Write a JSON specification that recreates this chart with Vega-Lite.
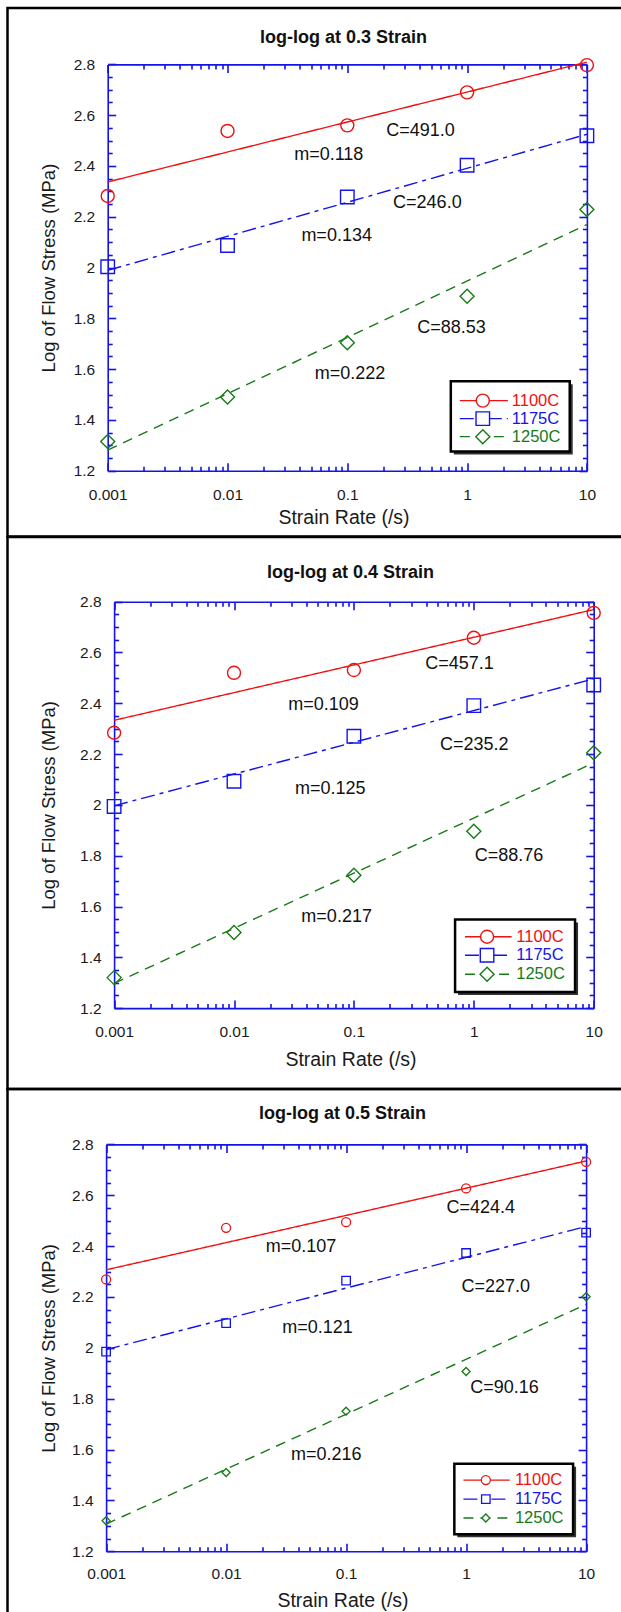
{
  "$schema": "https://vega.github.io/schema/vega-lite/v6.json",
  "background": "white",
  "padding": {"left": 5.5, "top": 6, "right": 0, "bottom": 0},
  "spacing": 0,
  "bounds": "flush",
  "config": {
    "view": {"stroke": "#000000", "strokeWidth": 2.5},
    "font": "Liberation Sans",
    "axis": {
      "domainColor": "#1414e8", "tickColor": "#1414e8", "domainWidth": 1.6, "tickWidth": 1.6,
      "grid": false, "labelFont": "Liberation Sans", "labelFontSize": 15.5, "labelColor": "#1a1a1a",
      "titleFont": "Liberation Sans", "titleFontWeight": "normal", "titleColor": "#1a1a1a",
      "labelFlush": false, "labelOverlap": false, "labelBound": false
    },
    "title": {"font": "Liberation Sans", "fontSize": 18, "fontWeight": "bold", "color": "#111111", "anchor": "middle", "frame": "group", "baseline": "middle"}
  },
  "datasets": {
    "obs": [
      {"strain": "0.3", "temp": "1100C", "rate": 0.001, "logs": 2.282},
      {"strain": "0.3", "temp": "1100C", "rate": 0.01, "logs": 2.538},
      {"strain": "0.3", "temp": "1100C", "rate": 0.1, "logs": 2.560},
      {"strain": "0.3", "temp": "1100C", "rate": 1, "logs": 2.690},
      {"strain": "0.3", "temp": "1100C", "rate": 10, "logs": 2.797},
      {"strain": "0.3", "temp": "1175C", "rate": 0.001, "logs": 2.003},
      {"strain": "0.3", "temp": "1175C", "rate": 0.01, "logs": 2.087},
      {"strain": "0.3", "temp": "1175C", "rate": 0.1, "logs": 2.278},
      {"strain": "0.3", "temp": "1175C", "rate": 1, "logs": 2.403},
      {"strain": "0.3", "temp": "1175C", "rate": 10, "logs": 2.519},
      {"strain": "0.3", "temp": "1250C", "rate": 0.001, "logs": 1.315},
      {"strain": "0.3", "temp": "1250C", "rate": 0.01, "logs": 1.490},
      {"strain": "0.3", "temp": "1250C", "rate": 0.1, "logs": 1.704},
      {"strain": "0.3", "temp": "1250C", "rate": 1, "logs": 1.887},
      {"strain": "0.3", "temp": "1250C", "rate": 10, "logs": 2.229},
      {"strain": "0.4", "temp": "1100C", "rate": 0.001, "logs": 2.284},
      {"strain": "0.4", "temp": "1100C", "rate": 0.01, "logs": 2.520},
      {"strain": "0.4", "temp": "1100C", "rate": 0.1, "logs": 2.531},
      {"strain": "0.4", "temp": "1100C", "rate": 1, "logs": 2.658},
      {"strain": "0.4", "temp": "1100C", "rate": 10, "logs": 2.756},
      {"strain": "0.4", "temp": "1175C", "rate": 0.001, "logs": 1.994},
      {"strain": "0.4", "temp": "1175C", "rate": 0.01, "logs": 2.093},
      {"strain": "0.4", "temp": "1175C", "rate": 0.1, "logs": 2.270},
      {"strain": "0.4", "temp": "1175C", "rate": 1, "logs": 2.391},
      {"strain": "0.4", "temp": "1175C", "rate": 10, "logs": 2.472},
      {"strain": "0.4", "temp": "1250C", "rate": 0.001, "logs": 1.320},
      {"strain": "0.4", "temp": "1250C", "rate": 0.01, "logs": 1.498},
      {"strain": "0.4", "temp": "1250C", "rate": 0.1, "logs": 1.723},
      {"strain": "0.4", "temp": "1250C", "rate": 1, "logs": 1.896},
      {"strain": "0.4", "temp": "1250C", "rate": 10, "logs": 2.205},
      {"strain": "0.5", "temp": "1100C", "rate": 0.001, "logs": 2.269},
      {"strain": "0.5", "temp": "1100C", "rate": 0.01, "logs": 2.472},
      {"strain": "0.5", "temp": "1100C", "rate": 0.1, "logs": 2.494},
      {"strain": "0.5", "temp": "1100C", "rate": 1, "logs": 2.627},
      {"strain": "0.5", "temp": "1100C", "rate": 10, "logs": 2.731},
      {"strain": "0.5", "temp": "1175C", "rate": 0.001, "logs": 1.985},
      {"strain": "0.5", "temp": "1175C", "rate": 0.01, "logs": 2.097},
      {"strain": "0.5", "temp": "1175C", "rate": 0.1, "logs": 2.264},
      {"strain": "0.5", "temp": "1175C", "rate": 1, "logs": 2.373},
      {"strain": "0.5", "temp": "1175C", "rate": 10, "logs": 2.453},
      {"strain": "0.5", "temp": "1250C", "rate": 0.001, "logs": 1.320},
      {"strain": "0.5", "temp": "1250C", "rate": 0.01, "logs": 1.510},
      {"strain": "0.5", "temp": "1250C", "rate": 0.1, "logs": 1.751},
      {"strain": "0.5", "temp": "1250C", "rate": 1, "logs": 1.907},
      {"strain": "0.5", "temp": "1250C", "rate": 10, "logs": 2.201}
    ],
    "fits": [
      {"strain": "0.3", "temp": "1100C", "rate": 0.001, "logs": 2.33708},
      {"strain": "0.3", "temp": "1100C", "rate": 10, "logs": 2.80908},
      {"strain": "0.3", "temp": "1175C", "rate": 0.001, "logs": 1.98894},
      {"strain": "0.3", "temp": "1175C", "rate": 10, "logs": 2.52494},
      {"strain": "0.3", "temp": "1250C", "rate": 0.001, "logs": 1.28109},
      {"strain": "0.3", "temp": "1250C", "rate": 10, "logs": 2.16909},
      {"strain": "0.4", "temp": "1100C", "rate": 0.001, "logs": 2.33301},
      {"strain": "0.4", "temp": "1100C", "rate": 10, "logs": 2.76901},
      {"strain": "0.4", "temp": "1175C", "rate": 0.001, "logs": 1.99644},
      {"strain": "0.4", "temp": "1175C", "rate": 10, "logs": 2.49644},
      {"strain": "0.4", "temp": "1250C", "rate": 0.001, "logs": 1.29722},
      {"strain": "0.4", "temp": "1250C", "rate": 10, "logs": 2.16522},
      {"strain": "0.5", "temp": "1100C", "rate": 0.001, "logs": 2.30678},
      {"strain": "0.5", "temp": "1100C", "rate": 10, "logs": 2.73478},
      {"strain": "0.5", "temp": "1175C", "rate": 0.001, "logs": 1.99303},
      {"strain": "0.5", "temp": "1175C", "rate": 10, "logs": 2.47703},
      {"strain": "0.5", "temp": "1250C", "rate": 0.001, "logs": 1.30701},
      {"strain": "0.5", "temp": "1250C", "rate": 10, "logs": 2.17101}
    ],
    "notes": [
      {"strain": "0.3", "label": "C=491.0", "rate": 0.409, "logs": 2.536},
      {"strain": "0.3", "label": "m=0.118", "rate": 0.070, "logs": 2.445},
      {"strain": "0.3", "label": "C=246.0", "rate": 0.466, "logs": 2.255},
      {"strain": "0.3", "label": "m=0.134", "rate": 0.0815, "logs": 2.125},
      {"strain": "0.3", "label": "C=88.53", "rate": 0.741, "logs": 1.760},
      {"strain": "0.3", "label": "m=0.222", "rate": 0.1054, "logs": 1.580},
      {"strain": "0.4", "label": "C=457.1", "rate": 0.759, "logs": 2.554},
      {"strain": "0.4", "label": "m=0.109", "rate": 0.0558, "logs": 2.395},
      {"strain": "0.4", "label": "C=235.2", "rate": 1.01, "logs": 2.236},
      {"strain": "0.4", "label": "m=0.125", "rate": 0.0635, "logs": 2.062},
      {"strain": "0.4", "label": "C=88.76", "rate": 1.963, "logs": 1.800},
      {"strain": "0.4", "label": "m=0.217", "rate": 0.0718, "logs": 1.559},
      {"strain": "0.5", "label": "C=424.4", "rate": 1.324, "logs": 2.550},
      {"strain": "0.5", "label": "m=0.107", "rate": 0.0421, "logs": 2.397},
      {"strain": "0.5", "label": "C=227.0", "rate": 1.768, "logs": 2.240},
      {"strain": "0.5", "label": "m=0.121", "rate": 0.0578, "logs": 2.077},
      {"strain": "0.5", "label": "C=90.16", "rate": 2.089, "logs": 1.841},
      {"strain": "0.5", "label": "m=0.216", "rate": 0.0684, "logs": 1.579}
    ],
    "keyBox": [
      {"strain": "0.3", "rate": 0.731, "rate2": 7.19, "logs": 1.552, "logs2": 1.276},
      {"strain": "0.4", "rate": 0.698, "rate2": 6.99, "logs": 1.549, "logs2": 1.263},
      {"strain": "0.5", "rate": 0.798, "rate2": 7.79, "logs": 1.544, "logs2": 1.267}
    ],
    "keyRows": [
      {"strain": "0.3", "temp": "1100C", "rate": 0.869, "rate2": 2.19, "sym": 1.352, "lab": 2.36, "logs": 1.476},
      {"strain": "0.3", "temp": "1175C", "rate": 0.869, "rate2": 2.19, "sym": 1.352, "lab": 2.36, "logs": 1.405},
      {"strain": "0.3", "temp": "1250C", "rate": 0.869, "rate2": 2.19, "sym": 1.352, "lab": 2.36, "logs": 1.334},
      {"strain": "0.4", "temp": "1100C", "rate": 0.845, "rate2": 2.07, "sym": 1.29, "lab": 2.26, "logs": 1.481},
      {"strain": "0.4", "temp": "1175C", "rate": 0.845, "rate2": 2.07, "sym": 1.29, "lab": 2.26, "logs": 1.408},
      {"strain": "0.4", "temp": "1250C", "rate": 0.845, "rate2": 2.07, "sym": 1.29, "lab": 2.26, "logs": 1.333},
      {"strain": "0.5", "temp": "1100C", "rate": 0.95, "rate2": 2.31, "sym": 1.46, "lab": 2.55, "logs": 1.480},
      {"strain": "0.5", "temp": "1175C", "rate": 0.95, "rate2": 2.31, "sym": 1.46, "lab": 2.55, "logs": 1.405},
      {"strain": "0.5", "temp": "1250C", "rate": 0.95, "rate2": 2.31, "sym": 1.46, "lab": 2.55, "logs": 1.331}
    ]
  },
  "resolve": {"scale": {"x": "independent", "y": "independent", "size": "independent"}},
  "vconcat": [
    {
      "width": 620, "height": 528.4,
      "title": {"text": "log-log at 0.3 Strain", "offset": -38.5, "dx": 26},
      "resolve": {"axis": {"x": "independent", "y": "independent"}},
      "layer": [
        {
          "data": {"name": "fits"}, "transform": [{"filter": "datum.strain == '0.3'"}],
          "mark": {"type": "line", "strokeWidth": 1.4},
          "encoding": {
            "x": {"field": "rate", "type": "quantitative", "scale": {"type": "log", "domain": [0.001, 10], "range": [100.2, 579.4]},
              "axis": {"orient": "bottom", "offset": -65.7, "values": [0.001, 0.01, 0.1, 1, 10], "format": "~g", "ticks": false, "domain": false, "labelBaseline": "middle", "labelPadding": 24, "title": "Strain Rate (/s)", "titleFontSize": 19.5, "titleX": 336, "titleY": 47, "titleBaseline": "middle", "titleAlign": "center"}},
            "y": {"field": "logs", "type": "quantitative", "scale": {"domain": [1.2, 2.8], "range": [462.7, 56.4], "zero": false, "nice": false},
              "axis": {"orient": "left", "offset": -100.2, "values": [1.2, 1.4, 1.6, 1.8, 2, 2.2, 2.4, 2.6, 2.8], "format": "~g", "ticks": false, "domain": false, "labelPadding": 13, "title": "Log of Flow Stress (MPa)", "titleFontSize": 18.5, "titleX": -59.4, "titleAngle": -90, "titleBaseline": "middle", "titleAlign": "center"}},
            "color": {"field": "temp", "type": "nominal", "scale": {"domain": ["1100C", "1175C", "1250C"], "range": ["#ee1111", "#1414e8", "#167a16"]}, "legend": null},
            "strokeDash": {"field": "temp", "type": "nominal", "scale": {"domain": ["1100C", "1175C", "1250C"], "range": [[1, 0], [14, 5, 4, 5], [10, 7]]}, "legend": null}
          }
        },
        {
          "data": {"name": "obs"}, "transform": [{"filter": "datum.strain == '0.3'"}],
          "mark": {"type": "point", "filled": false, "strokeWidth": 1.4, "opacity": 1},
          "encoding": {
            "x": {"field": "rate", "type": "quantitative", "scale": {"type": "log", "domain": [0.001, 10], "range": [100.2, 579.4]},
              "axis": {"orient": "bottom", "offset": -65.7, "values": [0.001, 0.01, 0.1, 1, 10], "labels": false, "ticks": true, "domain": true, "tickSize": -8, "title": null}},
            "y": {"field": "logs", "type": "quantitative", "scale": {"domain": [1.2, 2.8], "range": [462.7, 56.4], "zero": false, "nice": false},
              "axis": {"orient": "left", "offset": -100.2, "values": [1.2, 1.4, 1.6, 1.8, 2, 2.2, 2.4, 2.6, 2.8], "labels": false, "ticks": true, "domain": true, "tickSize": -8, "title": null}},
            "color": {"field": "temp", "type": "nominal", "scale": {"domain": ["1100C", "1175C", "1250C"], "range": ["#ee1111", "#1414e8", "#167a16"]}, "legend": null},
            "shape": {"field": "temp", "type": "nominal", "scale": {"domain": ["1100C", "1175C", "1250C"], "range": ["circle", "square", "diamond"]}, "legend": null},
            "size": {"field": "temp", "type": "ordinal", "scale": {"domain": ["1100C", "1175C", "1250C"], "range": [169, 196, 132]}, "legend": null}
          }
        },
        {
          "data": {"name": "notes"}, "transform": [{"filter": "datum.strain == '0.3'"}],
          "mark": {"type": "text", "fontSize": 18, "color": "#111111", "align": "center", "baseline": "middle"},
          "encoding": {
            "x": {"field": "rate", "type": "quantitative", "scale": {"type": "log", "domain": [0.001, 10], "range": [100.2, 579.4]},
              "axis": {"orient": "bottom", "offset": -65.7, "values": [0.002, 0.003, 0.004, 0.005, 0.006, 0.007, 0.008, 0.009, 0.02, 0.03, 0.04, 0.05, 0.06, 0.07, 0.08, 0.09, 0.2, 0.3, 0.4, 0.5, 0.6, 0.7, 0.8, 0.9, 2, 3, 4, 5, 6, 7, 8, 9], "labels": false, "ticks": true, "domain": false, "tickSize": -4.5, "title": null}},
            "y": {"field": "logs", "type": "quantitative", "scale": {"domain": [1.2, 2.8], "range": [462.7, 56.4], "zero": false, "nice": false},
              "axis": {"orient": "left", "offset": -100.2, "values": [1.25, 1.3, 1.35, 1.45, 1.5, 1.55, 1.65, 1.7, 1.75, 1.85, 1.9, 1.95, 2.05, 2.1, 2.15, 2.25, 2.3, 2.35, 2.45, 2.5, 2.55, 2.65, 2.7, 2.75], "labels": false, "ticks": true, "domain": false, "tickSize": -4.5, "title": null}},
            "text": {"field": "label", "type": "nominal"}
          }
        },
        {
          "data": {"name": "keyBox"}, "transform": [{"filter": "datum.strain == '0.3'"}],
          "mark": {"type": "rect", "fill": "#333333", "xOffset": 3, "x2Offset": 3, "yOffset": 3, "y2Offset": 3},
          "encoding": {
            "x": {"field": "rate", "type": "quantitative", "scale": {"type": "log", "domain": [0.001, 10], "range": [100.2, 579.4]},
              "axis": {"orient": "top", "offset": -56.4, "values": [0.001, 0.01, 0.1, 1, 10], "labels": false, "ticks": true, "domain": true, "tickSize": -8, "title": null}},
            "x2": {"field": "rate2"},
            "y": {"field": "logs", "type": "quantitative", "scale": {"domain": [1.2, 2.8], "range": [462.7, 56.4], "zero": false, "nice": false},
              "axis": {"orient": "right", "offset": -40.6, "values": [1.2, 1.4, 1.6, 1.8, 2, 2.2, 2.4, 2.6, 2.8], "labels": false, "ticks": true, "domain": true, "tickSize": -8, "title": null}},
            "y2": {"field": "logs2"}
          }
        },
        {
          "data": {"name": "keyBox"}, "transform": [{"filter": "datum.strain == '0.3'"}],
          "mark": {"type": "rect", "fill": "white", "stroke": "#000000", "strokeWidth": 2.5},
          "encoding": {
            "x": {"field": "rate", "type": "quantitative", "scale": {"type": "log", "domain": [0.001, 10], "range": [100.2, 579.4]},
              "axis": {"orient": "top", "offset": -56.4, "values": [0.002, 0.003, 0.004, 0.005, 0.006, 0.007, 0.008, 0.009, 0.02, 0.03, 0.04, 0.05, 0.06, 0.07, 0.08, 0.09, 0.2, 0.3, 0.4, 0.5, 0.6, 0.7, 0.8, 0.9, 2, 3, 4, 5, 6, 7, 8, 9], "labels": false, "ticks": true, "domain": false, "tickSize": -4.5, "title": null}},
            "x2": {"field": "rate2"},
            "y": {"field": "logs", "type": "quantitative", "scale": {"domain": [1.2, 2.8], "range": [462.7, 56.4], "zero": false, "nice": false},
              "axis": {"orient": "right", "offset": -40.6, "values": [1.25, 1.3, 1.35, 1.45, 1.5, 1.55, 1.65, 1.7, 1.75, 1.85, 1.9, 1.95, 2.05, 2.1, 2.15, 2.25, 2.3, 2.35, 2.45, 2.5, 2.55, 2.65, 2.7, 2.75], "labels": false, "ticks": true, "domain": false, "tickSize": -4.5, "title": null}},
            "y2": {"field": "logs2"}
          }
        },
        {
          "data": {"name": "keyRows"}, "transform": [{"filter": "datum.strain == '0.3'"}],
          "mark": {"type": "rule", "strokeWidth": 1.4},
          "encoding": {
            "x": {"field": "rate", "type": "quantitative", "scale": {"type": "log", "domain": [0.001, 10], "range": [100.2, 579.4]}, "axis": null},
            "x2": {"field": "rate2"},
            "y": {"field": "logs", "type": "quantitative", "scale": {"domain": [1.2, 2.8], "range": [462.7, 56.4], "zero": false, "nice": false}, "axis": null},
            "color": {"field": "temp", "type": "nominal", "scale": {"domain": ["1100C", "1175C", "1250C"], "range": ["#ee1111", "#1414e8", "#167a16"]}, "legend": null},
            "strokeDash": {"field": "temp", "type": "nominal", "scale": {"domain": ["1100C", "1175C", "1250C"], "range": [[1, 0], [14, 5, 4, 5], [10, 7]]}, "legend": null}
          }
        },
        {
          "data": {"name": "keyRows"}, "transform": [{"filter": "datum.strain == '0.3'"}],
          "mark": {"type": "point", "filled": false, "fill": "white", "fillOpacity": 1, "strokeWidth": 1.4, "opacity": 1},
          "encoding": {
            "x": {"field": "sym", "type": "quantitative", "scale": {"type": "log", "domain": [0.001, 10], "range": [100.2, 579.4]}, "axis": null},
            "y": {"field": "logs", "type": "quantitative", "scale": {"domain": [1.2, 2.8], "range": [462.7, 56.4], "zero": false, "nice": false}, "axis": null},
            "color": {"field": "temp", "type": "nominal", "scale": {"domain": ["1100C", "1175C", "1250C"], "range": ["#ee1111", "#1414e8", "#167a16"]}, "legend": null},
            "shape": {"field": "temp", "type": "nominal", "scale": {"domain": ["1100C", "1175C", "1250C"], "range": ["circle", "square", "diamond"]}, "legend": null},
            "size": {"field": "temp", "type": "ordinal", "scale": {"domain": ["1100C", "1175C", "1250C"], "range": [169, 196, 132]}, "legend": null}
          }
        },
        {
          "data": {"name": "keyRows"}, "transform": [{"filter": "datum.strain == '0.3'"}],
          "mark": {"type": "text", "fontSize": 16.5, "align": "left", "baseline": "middle"},
          "encoding": {
            "x": {"field": "lab", "type": "quantitative", "scale": {"type": "log", "domain": [0.001, 10], "range": [100.2, 579.4]}, "axis": null},
            "y": {"field": "logs", "type": "quantitative", "scale": {"domain": [1.2, 2.8], "range": [462.7, 56.4], "zero": false, "nice": false}, "axis": null},
            "text": {"field": "temp", "type": "nominal"},
            "color": {"field": "temp", "type": "nominal", "scale": {"domain": ["1100C", "1175C", "1250C"], "range": ["#ee1111", "#1414e8", "#167a16"]}, "legend": null}
          }
        }
      ]
    },
    {
      "width": 620, "height": 552,
      "title": {"text": "log-log at 0.4 Strain", "offset": -45, "dx": 33},
      "resolve": {"axis": {"x": "independent", "y": "independent"}},
      "layer": [
        {
          "data": {"name": "fits"}, "transform": [{"filter": "datum.strain == '0.4'"}],
          "mark": {"type": "line", "strokeWidth": 1.4},
          "encoding": {
            "x": {"field": "rate", "type": "quantitative", "scale": {"type": "log", "domain": [0.001, 10], "range": [106.6, 586.2]},
              "axis": {"orient": "bottom", "offset": -80.9, "values": [0.001, 0.01, 0.1, 1, 10], "format": "~g", "ticks": false, "domain": false, "labelBaseline": "middle", "labelPadding": 23, "title": "Strain Rate (/s)", "titleFontSize": 19.5, "titleX": 343, "titleY": 51.8, "titleBaseline": "middle", "titleAlign": "center"}},
            "y": {"field": "logs", "type": "quantitative", "scale": {"domain": [1.2, 2.8], "range": [471.1, 64.7], "zero": false, "nice": false},
              "axis": {"orient": "left", "offset": -106.6, "values": [1.2, 1.4, 1.6, 1.8, 2, 2.2, 2.4, 2.6, 2.8], "format": "~g", "ticks": false, "domain": false, "labelPadding": 13, "title": "Log of Flow Stress (MPa)", "titleFontSize": 18.5, "titleX": -65.8, "titleAngle": -90, "titleBaseline": "middle", "titleAlign": "center"}},
            "color": {"field": "temp", "type": "nominal", "scale": {"domain": ["1100C", "1175C", "1250C"], "range": ["#ee1111", "#1414e8", "#167a16"]}, "legend": null},
            "strokeDash": {"field": "temp", "type": "nominal", "scale": {"domain": ["1100C", "1175C", "1250C"], "range": [[1, 0], [14, 5, 4, 5], [10, 7]]}, "legend": null}
          }
        },
        {
          "data": {"name": "obs"}, "transform": [{"filter": "datum.strain == '0.4'"}],
          "mark": {"type": "point", "filled": false, "strokeWidth": 1.4, "opacity": 1},
          "encoding": {
            "x": {"field": "rate", "type": "quantitative", "scale": {"type": "log", "domain": [0.001, 10], "range": [106.6, 586.2]},
              "axis": {"orient": "bottom", "offset": -80.9, "values": [0.001, 0.01, 0.1, 1, 10], "labels": false, "ticks": true, "domain": true, "tickSize": -8, "title": null}},
            "y": {"field": "logs", "type": "quantitative", "scale": {"domain": [1.2, 2.8], "range": [471.1, 64.7], "zero": false, "nice": false},
              "axis": {"orient": "left", "offset": -106.6, "values": [1.2, 1.4, 1.6, 1.8, 2, 2.2, 2.4, 2.6, 2.8], "labels": false, "ticks": true, "domain": true, "tickSize": -8, "title": null}},
            "color": {"field": "temp", "type": "nominal", "scale": {"domain": ["1100C", "1175C", "1250C"], "range": ["#ee1111", "#1414e8", "#167a16"]}, "legend": null},
            "shape": {"field": "temp", "type": "nominal", "scale": {"domain": ["1100C", "1175C", "1250C"], "range": ["circle", "square", "diamond"]}, "legend": null},
            "size": {"field": "temp", "type": "ordinal", "scale": {"domain": ["1100C", "1175C", "1250C"], "range": [169, 196, 132]}, "legend": null}
          }
        },
        {
          "data": {"name": "notes"}, "transform": [{"filter": "datum.strain == '0.4'"}],
          "mark": {"type": "text", "fontSize": 18, "color": "#111111", "align": "center", "baseline": "middle"},
          "encoding": {
            "x": {"field": "rate", "type": "quantitative", "scale": {"type": "log", "domain": [0.001, 10], "range": [106.6, 586.2]},
              "axis": {"orient": "bottom", "offset": -80.9, "values": [0.002, 0.003, 0.004, 0.005, 0.006, 0.007, 0.008, 0.009, 0.02, 0.03, 0.04, 0.05, 0.06, 0.07, 0.08, 0.09, 0.2, 0.3, 0.4, 0.5, 0.6, 0.7, 0.8, 0.9, 2, 3, 4, 5, 6, 7, 8, 9], "labels": false, "ticks": true, "domain": false, "tickSize": -4.5, "title": null}},
            "y": {"field": "logs", "type": "quantitative", "scale": {"domain": [1.2, 2.8], "range": [471.1, 64.7], "zero": false, "nice": false},
              "axis": {"orient": "left", "offset": -106.6, "values": [1.25, 1.3, 1.35, 1.45, 1.5, 1.55, 1.65, 1.7, 1.75, 1.85, 1.9, 1.95, 2.05, 2.1, 2.15, 2.25, 2.3, 2.35, 2.45, 2.5, 2.55, 2.65, 2.7, 2.75], "labels": false, "ticks": true, "domain": false, "tickSize": -4.5, "title": null}},
            "text": {"field": "label", "type": "nominal"}
          }
        },
        {
          "data": {"name": "keyBox"}, "transform": [{"filter": "datum.strain == '0.4'"}],
          "mark": {"type": "rect", "fill": "#333333", "xOffset": 3, "x2Offset": 3, "yOffset": 3, "y2Offset": 3},
          "encoding": {
            "x": {"field": "rate", "type": "quantitative", "scale": {"type": "log", "domain": [0.001, 10], "range": [106.6, 586.2]},
              "axis": {"orient": "top", "offset": -64.7, "values": [0.001, 0.01, 0.1, 1, 10], "labels": false, "ticks": true, "domain": true, "tickSize": -8, "title": null}},
            "x2": {"field": "rate2"},
            "y": {"field": "logs", "type": "quantitative", "scale": {"domain": [1.2, 2.8], "range": [471.1, 64.7], "zero": false, "nice": false},
              "axis": {"orient": "right", "offset": -33.8, "values": [1.2, 1.4, 1.6, 1.8, 2, 2.2, 2.4, 2.6, 2.8], "labels": false, "ticks": true, "domain": true, "tickSize": -8, "title": null}},
            "y2": {"field": "logs2"}
          }
        },
        {
          "data": {"name": "keyBox"}, "transform": [{"filter": "datum.strain == '0.4'"}],
          "mark": {"type": "rect", "fill": "white", "stroke": "#000000", "strokeWidth": 2.5},
          "encoding": {
            "x": {"field": "rate", "type": "quantitative", "scale": {"type": "log", "domain": [0.001, 10], "range": [106.6, 586.2]},
              "axis": {"orient": "top", "offset": -64.7, "values": [0.002, 0.003, 0.004, 0.005, 0.006, 0.007, 0.008, 0.009, 0.02, 0.03, 0.04, 0.05, 0.06, 0.07, 0.08, 0.09, 0.2, 0.3, 0.4, 0.5, 0.6, 0.7, 0.8, 0.9, 2, 3, 4, 5, 6, 7, 8, 9], "labels": false, "ticks": true, "domain": false, "tickSize": -4.5, "title": null}},
            "x2": {"field": "rate2"},
            "y": {"field": "logs", "type": "quantitative", "scale": {"domain": [1.2, 2.8], "range": [471.1, 64.7], "zero": false, "nice": false},
              "axis": {"orient": "right", "offset": -33.8, "values": [1.25, 1.3, 1.35, 1.45, 1.5, 1.55, 1.65, 1.7, 1.75, 1.85, 1.9, 1.95, 2.05, 2.1, 2.15, 2.25, 2.3, 2.35, 2.45, 2.5, 2.55, 2.65, 2.7, 2.75], "labels": false, "ticks": true, "domain": false, "tickSize": -4.5, "title": null}},
            "y2": {"field": "logs2"}
          }
        },
        {
          "data": {"name": "keyRows"}, "transform": [{"filter": "datum.strain == '0.4'"}],
          "mark": {"type": "rule", "strokeWidth": 1.4},
          "encoding": {
            "x": {"field": "rate", "type": "quantitative", "scale": {"type": "log", "domain": [0.001, 10], "range": [106.6, 586.2]}, "axis": null},
            "x2": {"field": "rate2"},
            "y": {"field": "logs", "type": "quantitative", "scale": {"domain": [1.2, 2.8], "range": [471.1, 64.7], "zero": false, "nice": false}, "axis": null},
            "color": {"field": "temp", "type": "nominal", "scale": {"domain": ["1100C", "1175C", "1250C"], "range": ["#ee1111", "#1414e8", "#167a16"]}, "legend": null},
            "strokeDash": {"field": "temp", "type": "nominal", "scale": {"domain": ["1100C", "1175C", "1250C"], "range": [[1, 0], [14, 5, 4, 5], [10, 7]]}, "legend": null}
          }
        },
        {
          "data": {"name": "keyRows"}, "transform": [{"filter": "datum.strain == '0.4'"}],
          "mark": {"type": "point", "filled": false, "fill": "white", "fillOpacity": 1, "strokeWidth": 1.4, "opacity": 1},
          "encoding": {
            "x": {"field": "sym", "type": "quantitative", "scale": {"type": "log", "domain": [0.001, 10], "range": [106.6, 586.2]}, "axis": null},
            "y": {"field": "logs", "type": "quantitative", "scale": {"domain": [1.2, 2.8], "range": [471.1, 64.7], "zero": false, "nice": false}, "axis": null},
            "color": {"field": "temp", "type": "nominal", "scale": {"domain": ["1100C", "1175C", "1250C"], "range": ["#ee1111", "#1414e8", "#167a16"]}, "legend": null},
            "shape": {"field": "temp", "type": "nominal", "scale": {"domain": ["1100C", "1175C", "1250C"], "range": ["circle", "square", "diamond"]}, "legend": null},
            "size": {"field": "temp", "type": "ordinal", "scale": {"domain": ["1100C", "1175C", "1250C"], "range": [169, 196, 132]}, "legend": null}
          }
        },
        {
          "data": {"name": "keyRows"}, "transform": [{"filter": "datum.strain == '0.4'"}],
          "mark": {"type": "text", "fontSize": 16.5, "align": "left", "baseline": "middle"},
          "encoding": {
            "x": {"field": "lab", "type": "quantitative", "scale": {"type": "log", "domain": [0.001, 10], "range": [106.6, 586.2]}, "axis": null},
            "y": {"field": "logs", "type": "quantitative", "scale": {"domain": [1.2, 2.8], "range": [471.1, 64.7], "zero": false, "nice": false}, "axis": null},
            "text": {"field": "temp", "type": "nominal"},
            "color": {"field": "temp", "type": "nominal", "scale": {"domain": ["1100C", "1175C", "1250C"], "range": ["#ee1111", "#1414e8", "#167a16"]}, "legend": null}
          }
        }
      ]
    },
    {
      "width": 620, "height": 530,
      "title": {"text": "log-log at 0.5 Strain", "offset": -33.5, "dx": 25},
      "resolve": {"axis": {"x": "independent", "y": "independent"}},
      "layer": [
        {
          "data": {"name": "fits"}, "transform": [{"filter": "datum.strain == '0.5'"}],
          "mark": {"type": "line", "strokeWidth": 1.4},
          "encoding": {
            "x": {"field": "rate", "type": "quantitative", "scale": {"type": "log", "domain": [0.001, 10], "range": [98.6, 578.6]},
              "axis": {"orient": "bottom", "offset": -67.7, "values": [0.001, 0.01, 0.1, 1, 10], "format": "~g", "ticks": false, "domain": false, "labelBaseline": "middle", "labelPadding": 22, "title": "Strain Rate (/s)", "titleFontSize": 19.5, "titleX": 335, "titleY": 49, "titleBaseline": "middle", "titleAlign": "center"}},
            "y": {"field": "logs", "type": "quantitative", "scale": {"domain": [1.2, 2.8], "range": [462.3, 55.4], "zero": false, "nice": false},
              "axis": {"orient": "left", "offset": -98.6, "values": [1.2, 1.4, 1.6, 1.8, 2, 2.2, 2.4, 2.6, 2.8], "format": "~g", "ticks": false, "domain": false, "labelPadding": 13, "title": "Log of Flow Stress (MPa)", "titleFontSize": 18.5, "titleX": -57.8, "titleAngle": -90, "titleBaseline": "middle", "titleAlign": "center"}},
            "color": {"field": "temp", "type": "nominal", "scale": {"domain": ["1100C", "1175C", "1250C"], "range": ["#ee1111", "#1414e8", "#167a16"]}, "legend": null},
            "strokeDash": {"field": "temp", "type": "nominal", "scale": {"domain": ["1100C", "1175C", "1250C"], "range": [[1, 0], [14, 5, 4, 5], [10, 7]]}, "legend": null}
          }
        },
        {
          "data": {"name": "obs"}, "transform": [{"filter": "datum.strain == '0.5'"}],
          "mark": {"type": "point", "filled": false, "strokeWidth": 1.3, "opacity": 1},
          "encoding": {
            "x": {"field": "rate", "type": "quantitative", "scale": {"type": "log", "domain": [0.001, 10], "range": [98.6, 578.6]},
              "axis": {"orient": "bottom", "offset": -67.7, "values": [0.001, 0.01, 0.1, 1, 10], "labels": false, "ticks": true, "domain": true, "tickSize": -8, "title": null}},
            "y": {"field": "logs", "type": "quantitative", "scale": {"domain": [1.2, 2.8], "range": [462.3, 55.4], "zero": false, "nice": false},
              "axis": {"orient": "left", "offset": -98.6, "values": [1.2, 1.4, 1.6, 1.8, 2, 2.2, 2.4, 2.6, 2.8], "labels": false, "ticks": true, "domain": true, "tickSize": -8, "title": null}},
            "color": {"field": "temp", "type": "nominal", "scale": {"domain": ["1100C", "1175C", "1250C"], "range": ["#ee1111", "#1414e8", "#167a16"]}, "legend": null},
            "shape": {"field": "temp", "type": "nominal", "scale": {"domain": ["1100C", "1175C", "1250C"], "range": ["circle", "square", "diamond"]}, "legend": null},
            "size": {"field": "temp", "type": "ordinal", "scale": {"domain": ["1100C", "1175C", "1250C"], "range": [81, 64, 45]}, "legend": null}
          }
        },
        {
          "data": {"name": "notes"}, "transform": [{"filter": "datum.strain == '0.5'"}],
          "mark": {"type": "text", "fontSize": 18, "color": "#111111", "align": "center", "baseline": "middle"},
          "encoding": {
            "x": {"field": "rate", "type": "quantitative", "scale": {"type": "log", "domain": [0.001, 10], "range": [98.6, 578.6]},
              "axis": {"orient": "bottom", "offset": -67.7, "values": [0.002, 0.003, 0.004, 0.005, 0.006, 0.007, 0.008, 0.009, 0.02, 0.03, 0.04, 0.05, 0.06, 0.07, 0.08, 0.09, 0.2, 0.3, 0.4, 0.5, 0.6, 0.7, 0.8, 0.9, 2, 3, 4, 5, 6, 7, 8, 9], "labels": false, "ticks": true, "domain": false, "tickSize": -4.5, "title": null}},
            "y": {"field": "logs", "type": "quantitative", "scale": {"domain": [1.2, 2.8], "range": [462.3, 55.4], "zero": false, "nice": false},
              "axis": {"orient": "left", "offset": -98.6, "values": [1.25, 1.3, 1.35, 1.45, 1.5, 1.55, 1.65, 1.7, 1.75, 1.85, 1.9, 1.95, 2.05, 2.1, 2.15, 2.25, 2.3, 2.35, 2.45, 2.5, 2.55, 2.65, 2.7, 2.75], "labels": false, "ticks": true, "domain": false, "tickSize": -4.5, "title": null}},
            "text": {"field": "label", "type": "nominal"}
          }
        },
        {
          "data": {"name": "keyBox"}, "transform": [{"filter": "datum.strain == '0.5'"}],
          "mark": {"type": "rect", "fill": "#333333", "xOffset": 3, "x2Offset": 3, "yOffset": 3, "y2Offset": 3},
          "encoding": {
            "x": {"field": "rate", "type": "quantitative", "scale": {"type": "log", "domain": [0.001, 10], "range": [98.6, 578.6]},
              "axis": {"orient": "top", "offset": -55.4, "values": [0.001, 0.01, 0.1, 1, 10], "labels": false, "ticks": true, "domain": true, "tickSize": -8, "title": null}},
            "x2": {"field": "rate2"},
            "y": {"field": "logs", "type": "quantitative", "scale": {"domain": [1.2, 2.8], "range": [462.3, 55.4], "zero": false, "nice": false},
              "axis": {"orient": "right", "offset": -41.4, "values": [1.2, 1.4, 1.6, 1.8, 2, 2.2, 2.4, 2.6, 2.8], "labels": false, "ticks": true, "domain": true, "tickSize": -8, "title": null}},
            "y2": {"field": "logs2"}
          }
        },
        {
          "data": {"name": "keyBox"}, "transform": [{"filter": "datum.strain == '0.5'"}],
          "mark": {"type": "rect", "fill": "white", "stroke": "#000000", "strokeWidth": 2.5},
          "encoding": {
            "x": {"field": "rate", "type": "quantitative", "scale": {"type": "log", "domain": [0.001, 10], "range": [98.6, 578.6]},
              "axis": {"orient": "top", "offset": -55.4, "values": [0.002, 0.003, 0.004, 0.005, 0.006, 0.007, 0.008, 0.009, 0.02, 0.03, 0.04, 0.05, 0.06, 0.07, 0.08, 0.09, 0.2, 0.3, 0.4, 0.5, 0.6, 0.7, 0.8, 0.9, 2, 3, 4, 5, 6, 7, 8, 9], "labels": false, "ticks": true, "domain": false, "tickSize": -4.5, "title": null}},
            "x2": {"field": "rate2"},
            "y": {"field": "logs", "type": "quantitative", "scale": {"domain": [1.2, 2.8], "range": [462.3, 55.4], "zero": false, "nice": false},
              "axis": {"orient": "right", "offset": -41.4, "values": [1.25, 1.3, 1.35, 1.45, 1.5, 1.55, 1.65, 1.7, 1.75, 1.85, 1.9, 1.95, 2.05, 2.1, 2.15, 2.25, 2.3, 2.35, 2.45, 2.5, 2.55, 2.65, 2.7, 2.75], "labels": false, "ticks": true, "domain": false, "tickSize": -4.5, "title": null}},
            "y2": {"field": "logs2"}
          }
        },
        {
          "data": {"name": "keyRows"}, "transform": [{"filter": "datum.strain == '0.5'"}],
          "mark": {"type": "rule", "strokeWidth": 1.4},
          "encoding": {
            "x": {"field": "rate", "type": "quantitative", "scale": {"type": "log", "domain": [0.001, 10], "range": [98.6, 578.6]}, "axis": null},
            "x2": {"field": "rate2"},
            "y": {"field": "logs", "type": "quantitative", "scale": {"domain": [1.2, 2.8], "range": [462.3, 55.4], "zero": false, "nice": false}, "axis": null},
            "color": {"field": "temp", "type": "nominal", "scale": {"domain": ["1100C", "1175C", "1250C"], "range": ["#ee1111", "#1414e8", "#167a16"]}, "legend": null},
            "strokeDash": {"field": "temp", "type": "nominal", "scale": {"domain": ["1100C", "1175C", "1250C"], "range": [[1, 0], [14, 5, 4, 5], [10, 7]]}, "legend": null}
          }
        },
        {
          "data": {"name": "keyRows"}, "transform": [{"filter": "datum.strain == '0.5'"}],
          "mark": {"type": "point", "filled": false, "fill": "white", "fillOpacity": 1, "strokeWidth": 1.3, "opacity": 1},
          "encoding": {
            "x": {"field": "sym", "type": "quantitative", "scale": {"type": "log", "domain": [0.001, 10], "range": [98.6, 578.6]}, "axis": null},
            "y": {"field": "logs", "type": "quantitative", "scale": {"domain": [1.2, 2.8], "range": [462.3, 55.4], "zero": false, "nice": false}, "axis": null},
            "color": {"field": "temp", "type": "nominal", "scale": {"domain": ["1100C", "1175C", "1250C"], "range": ["#ee1111", "#1414e8", "#167a16"]}, "legend": null},
            "shape": {"field": "temp", "type": "nominal", "scale": {"domain": ["1100C", "1175C", "1250C"], "range": ["circle", "square", "diamond"]}, "legend": null},
            "size": {"field": "temp", "type": "ordinal", "scale": {"domain": ["1100C", "1175C", "1250C"], "range": [81, 64, 45]}, "legend": null}
          }
        },
        {
          "data": {"name": "keyRows"}, "transform": [{"filter": "datum.strain == '0.5'"}],
          "mark": {"type": "text", "fontSize": 16.5, "align": "left", "baseline": "middle"},
          "encoding": {
            "x": {"field": "lab", "type": "quantitative", "scale": {"type": "log", "domain": [0.001, 10], "range": [98.6, 578.6]}, "axis": null},
            "y": {"field": "logs", "type": "quantitative", "scale": {"domain": [1.2, 2.8], "range": [462.3, 55.4], "zero": false, "nice": false}, "axis": null},
            "text": {"field": "temp", "type": "nominal"},
            "color": {"field": "temp", "type": "nominal", "scale": {"domain": ["1100C", "1175C", "1250C"], "range": ["#ee1111", "#1414e8", "#167a16"]}, "legend": null}
          }
        }
      ]
    }
  ]
}
